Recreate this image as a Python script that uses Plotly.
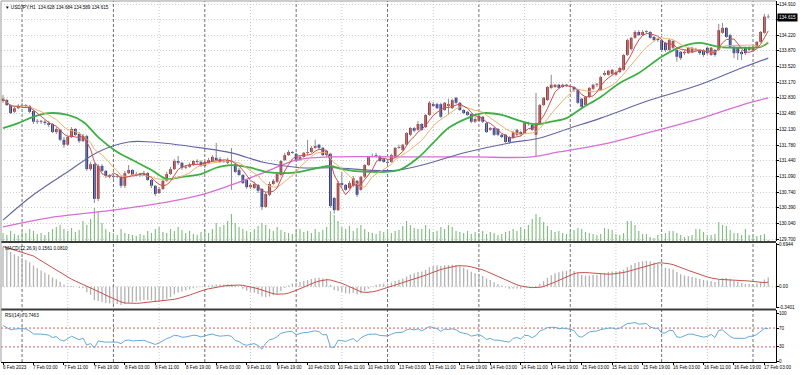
import numpy as np
import pandas as pd
import plotly.graph_objects as go

# ---------------- data (USDJPY H1, 6 Feb 19:00 .. 17 Feb 04:00) ----------------
opens = [
 132.76,132.78,132.67,132.52,132.60,132.65,132.67,132.65,132.54,132.30,
 132.32,132.30,132.27,132.25,132.07,132.12,131.90,131.79,131.96,132.14,
 132.03,131.87,131.98,131.25,131.36,130.59,131.32,131.21,131.10,131.10,
 131.08,131.08,130.88,131.16,131.23,131.12,131.14,131.12,131.16,131.01,
 130.88,130.72,130.81,130.99,131.14,131.25,131.43,131.39,131.28,131.30,
 131.34,131.43,131.41,131.32,131.39,131.43,131.50,131.47,131.41,131.39,
 131.43,131.36,131.23,131.12,131.01,130.85,130.83,130.90,130.81,130.41,
 130.68,130.92,130.97,131.12,131.45,131.56,131.63,131.59,131.45,131.52,
 131.61,131.63,131.72,131.79,131.72,131.65,131.59,130.61,130.34,130.94,
 130.90,130.83,130.88,130.99,130.79,131.08,131.34,131.52,131.52,131.54,
 131.47,131.41,131.41,131.52,131.72,131.67,131.79,132.01,132.16,132.12,
 132.25,132.18,132.45,132.69,132.69,132.69,132.56,132.65,132.60,132.83,
 132.72,132.56,132.52,132.47,132.30,132.32,132.41,132.27,132.12,132.16,
 132.14,132.01,132.01,131.96,131.94,132.01,132.07,132.05,132.27,132.23,
 132.01,132.27,132.67,132.78,133.05,133.07,133.12,133.07,133.12,133.09,
 133.07,133.00,132.81,132.67,132.85,133.03,133.12,133.00,133.34,133.34,
 133.36,133.34,133.40,133.45,133.78,133.91,134.16,134.29,134.22,134.29,
 134.29,134.18,134.14,134.11,134.05,133.89,133.94,133.89,133.85,133.82,
 133.82,133.85,133.91,133.89,133.89,133.94,133.78,133.89,133.89,134.27,
 134.38,134.22,133.96,133.94,133.85,133.94,133.89,133.89,133.96,134.07,
 134.27,134.628]
highs = [
 132.89,132.81,132.69,132.65,132.69,132.72,132.69,132.67,132.56,132.36,
 132.34,132.34,132.32,132.27,132.18,132.14,131.96,132.01,132.18,132.16,
 132.07,132.03,132.01,131.41,131.39,131.36,131.36,131.23,131.14,131.12,
 131.14,131.10,131.21,131.34,131.25,131.19,131.16,131.21,131.19,131.03,
 130.90,130.85,131.03,131.19,131.30,131.47,131.54,131.41,131.34,131.39,
 131.45,131.47,131.45,131.43,131.50,131.56,131.83,131.52,131.47,131.50,
 131.72,131.39,131.28,131.14,131.03,130.94,130.97,130.92,130.83,130.74,
 130.97,131.03,131.19,131.45,131.61,131.67,131.65,131.61,131.56,131.63,
 131.90,131.76,131.90,131.81,131.74,131.67,131.61,130.63,130.99,131.19,
 130.92,130.99,131.10,131.01,131.10,131.36,131.54,131.59,131.61,131.56,
 131.50,131.45,131.59,131.74,131.79,131.81,132.07,132.18,132.18,132.32,
 132.27,132.47,132.76,132.74,132.72,132.72,132.74,132.81,132.81,132.85,
 132.74,132.58,132.54,132.49,132.41,132.45,132.43,132.30,132.18,132.18,
 132.16,132.03,132.03,131.98,132.10,132.14,132.10,132.30,132.30,132.25,
 132.94,132.69,132.85,133.09,133.34,133.14,133.14,133.14,133.14,133.12,
 133.09,133.03,132.83,132.87,133.07,133.14,133.16,133.32,133.43,133.45,
 133.47,133.43,133.51,133.80,134.14,134.18,134.33,134.33,134.33,134.33,
 134.31,134.20,134.16,134.14,134.07,134.14,134.11,133.91,133.87,133.89,
 133.96,133.96,133.94,133.91,133.91,133.96,133.96,133.91,134.47,134.49,
 134.40,134.25,133.98,133.96,133.89,133.96,133.98,133.98,134.09,134.31,
 134.69,134.684]
lows = [
 132.72,132.65,132.47,132.49,132.58,132.63,132.60,132.49,132.25,132.25,
 132.25,132.23,132.18,132.05,132.03,131.87,131.72,131.76,131.94,131.98,
 131.83,131.85,131.21,131.21,130.50,130.54,131.19,131.05,131.05,131.03,
 131.05,130.83,130.83,131.14,131.10,131.10,131.08,131.10,130.99,130.83,
 130.65,130.70,130.79,130.97,131.12,131.23,131.34,131.23,131.25,131.28,
 131.32,131.36,131.30,131.28,131.36,131.41,131.43,131.39,131.39,131.36,
 130.79,131.16,131.10,130.92,130.81,130.81,130.81,130.72,130.34,130.39,
 130.65,130.90,130.94,131.10,131.43,131.54,131.59,131.41,131.43,131.50,
 131.56,131.61,131.70,131.67,131.54,131.52,130.39,130.26,130.32,130.85,
 130.77,130.81,130.85,130.63,130.77,131.05,131.32,131.50,131.50,131.41,
 131.39,131.36,131.39,131.50,131.70,131.65,131.76,131.98,132.07,132.10,
 132.10,132.16,132.43,132.63,132.58,132.38,132.54,132.45,132.58,132.69,
 132.54,132.47,132.43,132.27,132.27,132.30,132.27,132.05,132.10,131.98,
 131.98,131.94,131.83,131.81,131.92,131.98,131.98,132.03,132.21,132.10,
 131.52,132.25,132.65,132.76,133.03,133.05,133.03,133.05,133.07,133.03,
 132.96,132.69,132.60,132.65,132.83,133.00,133.07,132.98,133.32,133.32,
 133.34,133.32,133.38,133.43,133.76,133.89,134.14,134.20,134.20,134.25,
 134.14,134.09,134.07,133.87,133.85,133.87,133.91,133.63,133.67,133.78,
 133.80,133.82,133.85,133.78,133.74,133.78,133.76,133.74,133.87,134.25,
 134.16,133.94,133.71,133.67,133.67,133.78,133.87,133.87,133.94,134.05,
 134.25,134.589]
closes = [
 132.81,132.67,132.49,132.60,132.65,132.67,132.65,132.52,132.30,132.32,
 132.30,132.27,132.23,132.07,132.14,131.90,131.79,131.96,132.14,132.01,
 131.87,131.98,131.25,131.36,130.59,131.32,131.21,131.10,131.12,131.08,
 131.10,130.88,131.16,131.23,131.12,131.14,131.12,131.16,131.01,130.88,
 130.70,130.81,130.99,131.14,131.25,131.43,131.39,131.28,131.30,131.34,
 131.43,131.41,131.32,131.41,131.45,131.52,131.45,131.41,131.43,131.45,
 131.41,131.19,131.12,130.94,130.85,130.90,130.92,130.77,130.41,130.70,
 130.92,130.99,131.14,131.43,131.56,131.63,131.61,131.43,131.52,131.61,
 131.63,131.72,131.76,131.72,131.56,131.56,130.43,130.34,130.94,130.90,
 130.79,130.94,131.05,130.68,131.08,131.34,131.52,131.54,131.56,131.43,
 131.41,131.39,131.56,131.72,131.74,131.79,132.05,132.16,132.10,132.25,
 132.12,132.45,132.72,132.65,132.60,132.41,132.72,132.69,132.78,132.72,
 132.56,132.49,132.45,132.30,132.36,132.43,132.30,132.07,132.16,132.01,
 132.01,131.96,131.85,131.85,132.07,132.12,132.03,132.27,132.25,132.12,
 132.27,132.67,132.83,133.07,133.12,133.12,133.05,133.12,133.09,133.07,
 133.00,132.72,132.63,132.85,133.05,133.12,133.14,133.29,133.38,133.43,
 133.45,133.40,133.49,133.78,134.11,134.16,134.29,134.22,134.29,134.31,
 134.16,134.11,134.11,133.89,133.89,134.11,134.09,133.74,133.71,133.85,
 133.94,133.94,133.89,133.82,133.78,133.82,133.94,133.78,134.33,134.38,
 134.18,133.96,133.82,133.82,133.80,133.82,133.94,133.96,134.07,134.29,
 134.63,134.615]
volumes = [
 3200,2400,4000,2800,2400,3600,3200,4800,4000,2800,
 3200,2400,3600,4800,5600,6400,4800,4000,5200,3600,
 4400,8000,6400,8800,13200,12000,7200,4800,3600,3200,
 2400,4800,3200,2800,2400,2000,2800,2400,4000,3200,
 4800,5600,3600,3200,4800,4000,5600,4400,3200,4000,
 2800,2400,3600,4400,3200,4800,7200,5600,6400,8000,
 10800,7200,5600,4800,4000,3600,4800,6000,7200,6400,
 4800,4000,5600,4400,3600,3200,2800,4000,4800,3600,
 4000,3200,4800,3600,4400,5600,12000,10400,8000,5600,
 4800,6000,4000,5200,6400,4800,3600,3200,2800,4000,
 3600,4800,3200,4000,4400,6000,8000,6400,5200,4800,
 4800,6400,4800,3600,4000,5600,4800,6400,5600,4000,
 3600,3200,4000,2800,3600,3200,4000,2800,3600,3200,
 2400,2800,3600,4000,4800,4000,5600,4800,6400,8800,
 10800,9600,7600,6000,4400,3600,4000,3200,2800,3600,
 4400,5200,4800,3600,3200,2800,2400,2800,5200,4800,
 4400,2800,2400,3200,8000,8000,6400,4000,2800,2800,
 1600,1200,2400,2400,3200,4000,4000,3200,2400,1600,
 2000,2400,4800,4800,3600,2400,2400,2800,7600,6400,
 6000,4400,3200,3200,2400,4800,2400,2000,2000,2400,
 2800,400]

# moving averages (bar index, value)
green_bars = [0,4,8,12,17,21,25,30,34,39,43,47,52,56,60,65,69,74,78,83,86,89,96,104,109,113,117,122,126,131,135,139,141,144,148,152,157,162,167,173,178,183,188,194,199,201]
green_vals = [132.16,132.27,132.41,132.49,132.45,132.30,131.96,131.63,131.45,131.23,131.03,131.08,131.14,131.28,131.34,131.28,131.19,131.16,131.19,131.28,131.32,131.25,131.19,131.23,131.50,131.83,132.16,132.38,132.49,132.45,132.34,132.25,132.25,132.30,132.38,132.60,132.85,133.16,133.38,133.74,133.96,134.05,133.96,133.94,133.96,134.05]
blue_bars = [0,8,17,25,33,39,52,60,69,78,87,104,122,133,141,149,157,170,183,194,201]
blue_vals = [130.12,130.68,131.19,131.63,131.85,131.85,131.72,131.61,131.39,131.28,131.28,131.23,131.63,131.83,131.94,132.16,132.38,132.78,133.12,133.49,133.71]
mag_bars = [0,12,25,39,52,60,69,77,86,104,123,139,146,157,170,182,194,201]
mag_vals = [129.97,130.17,130.30,130.46,130.68,130.90,131.19,131.45,131.52,131.52,131.52,131.52,131.63,131.79,132.07,132.34,132.67,132.83]

# indicator seeds (state before the first visible bar)
ema12_seed, ema26_seed = 132.50, 131.82
rsi_seed_gain, rsi_seed_loss = 0.15, 0.05

time_labels = ["6 Feb 2023","7 Feb 03:00","7 Feb 11:00","7 Feb 19:00","8 Feb 03:00","8 Feb 11:00",
               "8 Feb 19:00","9 Feb 03:00","9 Feb 11:00","9 Feb 19:00","10 Feb 03:00","10 Feb 11:00",
               "10 Feb 19:00","13 Feb 03:00","13 Feb 11:00","13 Feb 19:00","14 Feb 03:00","14 Feb 11:00",
               "14 Feb 19:00","15 Feb 03:00","15 Feb 11:00","15 Feb 19:00","16 Feb 03:00","16 Feb 11:00",
               "16 Feb 19:00","17 Feb 03:00"]
price_ticks = [134.910,134.570,134.220,133.870,133.520,133.170,132.830,132.480,132.130,
               131.780,131.440,131.090,130.740,130.390,130.040,129.700]
macd_ticks = [0.6944, 0.0, -0.3401]
macd_ticktext = ["0.6944", "0.00", "-0.3401"]
rsi_ticks = [100, 70, 30, 0]
header = "\u25BC USDJPY,H1  134.628 134.684 134.589 134.615"
macd_header = "MACD(12,26,9) 0.1561 0.0810"
rsi_header = "RSI(14) 70.7463"

n = len(closes)
for nm, arr in [("opens", opens), ("highs", highs), ("lows", lows), ("volumes", volumes)]:
    if len(arr) != n:
        raise SystemExit(f"{nm} has {len(arr)} != {n}")
idx = list(range(n))

# ---------------- indicators ----------------
cs = pd.Series(closes)
ma_red = cs.rolling(5, min_periods=1).mean()
ma_orange = cs.rolling(10, min_periods=1).mean()

a12, a26 = 2 / 13, 2 / 27
e12, e26 = ema12_seed, ema26_seed
macd = []
for v in closes:
    e12 += a12 * (v - e12)
    e26 += a26 * (v - e26)
    macd.append(e12 - e26)
signal = pd.Series(macd).rolling(9, min_periods=1).mean()

g, l = rsi_seed_gain, rsi_seed_loss
prev = opens[0]
rsi = []
for v in closes:
    d = v - prev
    g = (g * 13 + max(d, 0)) / 14
    l = (l * 13 + max(-d, 0)) / 14
    rsi.append(100 - 100 / (1 + g / l) if l > 0 else 100)
    prev = v

# ---------------- figure ----------------
FONT = "Liberation Sans"
FS = 4.6
BULL, BEAR, WICK = "#b4282a", "#232b8f", "#8a8a8a"

fig = go.Figure()

# volumes (hidden axis y, overlaid by prices on y2)
fig.add_trace(go.Bar(x=idx, y=volumes, yaxis="y", marker=dict(color="#80be80", line=dict(width=0)),
                     width=0.3, hoverinfo="skip"))

# wicks
wx, wy = [], []
for i in idx:
    wx += [i, i, None]
    wy += [lows[i], highs[i], None]
fig.add_trace(go.Scatter(x=wx, y=wy, yaxis="y2", mode="lines", line=dict(color=WICK, width=1),
                         hoverinfo="skip"))
# bodies
base = [min(o, c) for o, c in zip(opens, closes)]
hgt = [max(abs(c - o), 0.012) for o, c in zip(opens, closes)]
cols = [BULL if c > o else (BEAR if c < o else WICK) for o, c in zip(opens, closes)]
fig.add_trace(go.Bar(x=idx, y=hgt, base=base, yaxis="y2", width=0.72,
                     marker=dict(color=cols, line=dict(width=0)), hoverinfo="skip"))

# moving averages
fig.add_trace(go.Scatter(x=mag_bars, y=mag_vals, yaxis="y2", mode="lines",
                         line=dict(color="#d86fd8", width=1.3, shape="spline", smoothing=1.0), hoverinfo="skip"))
fig.add_trace(go.Scatter(x=blue_bars, y=blue_vals, yaxis="y2", mode="lines",
                         line=dict(color="#6264a8", width=1.1, shape="spline", smoothing=1.0), hoverinfo="skip"))
fig.add_trace(go.Scatter(x=green_bars, y=green_vals, yaxis="y2", mode="lines",
                         line=dict(color="#3cb043", width=1.8, shape="spline", smoothing=1.0), hoverinfo="skip"))
fig.add_trace(go.Scatter(x=idx, y=ma_orange, yaxis="y2", mode="lines",
                         line=dict(color="#f0b070", width=1), hoverinfo="skip"))
fig.add_trace(go.Scatter(x=idx, y=ma_red, yaxis="y2", mode="lines",
                         line=dict(color="#d0504a", width=1), hoverinfo="skip"))

# MACD
fig.add_trace(go.Bar(x=idx, y=macd, yaxis="y3", width=0.34, marker=dict(color="#b2b2b2", line=dict(width=0)),
                     hoverinfo="skip"))
fig.add_trace(go.Scatter(x=idx, y=signal, yaxis="y3", mode="lines", line=dict(color="#c8504a", width=1),
                         hoverinfo="skip"))
# RSI
fig.add_trace(go.Scatter(x=idx, y=rsi, yaxis="y4", mode="lines", line=dict(color="#64a8d8", width=1),
                         hoverinfo="skip"))

axis_font = dict(family=FONT, size=FS, color="#000")
common_y = dict(side="right", anchor="x", ticks="outside", ticklen=2, tickcolor="#000",
                showline=True, linecolor="#000", linewidth=1, zeroline=False,
                showticklabels=False, fixedrange=True)

MAIN_DOM = [0.3352, 1.0]
MACD_DOM = [0.1482, 0.3296]
RSI_DOM = [0.0, 0.1427]

fig.update_layout(
    width=800, height=375, margin=dict(l=1, r=24, t=1, b=13),
    paper_bgcolor="white", plot_bgcolor="white", showlegend=False,
    barmode="overlay", font=dict(family=FONT, size=FS, color="#000"),
    xaxis=dict(domain=[0, 1], range=[-0.53, 203.04], anchor="y4", showgrid=False, zeroline=False,
               showline=True, linecolor="#000", linewidth=1, ticks="outside", ticklen=2,
               tickcolor="#000", tickvals=[8 * k for k in range(len(time_labels))],
               showticklabels=False, fixedrange=True),
    yaxis=dict(domain=MAIN_DOM, range=[0, 96000], visible=False, fixedrange=True),
    yaxis2=dict(overlaying="y", range=[129.656, 134.9765], tickvals=price_ticks,
                showgrid=True, gridcolor="#cdcdcd", griddash="1px,2px", gridwidth=1, **common_y),
    yaxis3=dict(domain=MACD_DOM, range=[-0.3545, 0.7106], tickvals=macd_ticks, showgrid=False, **common_y),
    yaxis4=dict(domain=RSI_DOM, range=[-2.1, 107.4], tickvals=rsi_ticks, showgrid=False, **common_y),
)

shapes = []
# light vertical grid (every 24 bars, midway between day separators)
for b in range(17, n, 24):
    shapes.append(dict(type="line", xref="x", yref="paper", x0=b, x1=b, y0=0, y1=1,
                       line=dict(color="#c8c8c8", width=1, dash="1px,2px"), layer="below"))
# day separators (midnight bars)
for b in range(5, n, 24):
    shapes.append(dict(type="line", xref="x", yref="paper", x0=b, x1=b, y0=0, y1=1,
                       line=dict(color="#707070", width=1, dash="3px,2px"), layer="below"))
# MACD zero grid
shapes.append(dict(type="line", xref="paper", yref="y3", x0=0, x1=1, y0=0, y1=0,
                   line=dict(color="#c8c8c8", width=1, dash="1px,2px"), layer="below"))
# RSI levels
for lv in (70, 30):
    shapes.append(dict(type="line", xref="paper", yref="y4", x0=0, x1=1, y0=lv, y1=lv,
                       line=dict(color="#d96060", width=1, dash="2px,2px"), layer="below"))
# panel separators & frame
for yy in (0.3324, 0.1454):
    shapes.append(dict(type="line", xref="paper", yref="paper", x0=0, x1=1, y0=yy, y1=yy,
                       line=dict(color="#3c3c3c", width=2)))
shapes.append(dict(type="line", xref="paper", yref="paper", x0=0, x1=0, y0=0, y1=1,
                   line=dict(color="#9a9a9a", width=1)))
shapes.append(dict(type="line", xref="paper", yref="paper", x0=0, x1=1, y0=1, y1=1,
                   line=dict(color="#9a9a9a", width=1)))
fig.update_layout(shapes=shapes)

ann = []
# right-hand axis labels (the current-price tag, added last, partly covers the one next to it)
for v in price_ticks:
    ann.append(dict(x=1, xref="paper", y=v, yref="y2", xanchor="left", yanchor="middle",
                    text=f"{v:.3f}", showarrow=False, xshift=2, borderpad=0, font=axis_font))
for v, t in zip(macd_ticks, macd_ticktext):
    ann.append(dict(x=1, xref="paper", y=v, yref="y3", xanchor="left", yanchor="middle",
                    text=t, showarrow=False, xshift=2, borderpad=0, font=axis_font))
for v in rsi_ticks:
    ann.append(dict(x=1, xref="paper", y=v, yref="y4", xanchor="left", yanchor="middle",
                    text=str(v), showarrow=False, xshift=2, borderpad=0, font=axis_font))
# time labels
for k, t in enumerate(time_labels):
    ann.append(dict(x=8 * k, xref="x", y=0, yref="paper", yanchor="top", xanchor="left",
                    text=t, showarrow=False, yshift=-2, xshift=-1, borderpad=0, font=axis_font))
ann.append(dict(x=0, xref="paper", y=1, yref="paper", xanchor="left", yanchor="top", text=header,
                showarrow=False, xshift=2, yshift=-2, font=axis_font))
ann.append(dict(x=0, xref="paper", y=MACD_DOM[1], yref="paper", xanchor="left", yanchor="top",
                text=macd_header, showarrow=False, xshift=2, yshift=-1, font=axis_font))
ann.append(dict(x=0, xref="paper", y=RSI_DOM[1], yref="paper", xanchor="left", yanchor="top",
                text=rsi_header, showarrow=False, xshift=2, yshift=-1, font=axis_font))
ann.append(dict(x=1, xref="paper", y=closes[-1], yref="y2", xanchor="left", yanchor="middle",
                text=f"{closes[-1]:.3f}", showarrow=False, xshift=1, bgcolor="#000", borderpad=1,
                font=dict(family=FONT, size=FS, color="#fff")))
fig.update_layout(annotations=ann)

fig.write_html("out.html", config={"displayModeBar": False, "staticPlot": True},
               post_script="document.body.style.margin='0px';document.body.style.padding='0px';")
